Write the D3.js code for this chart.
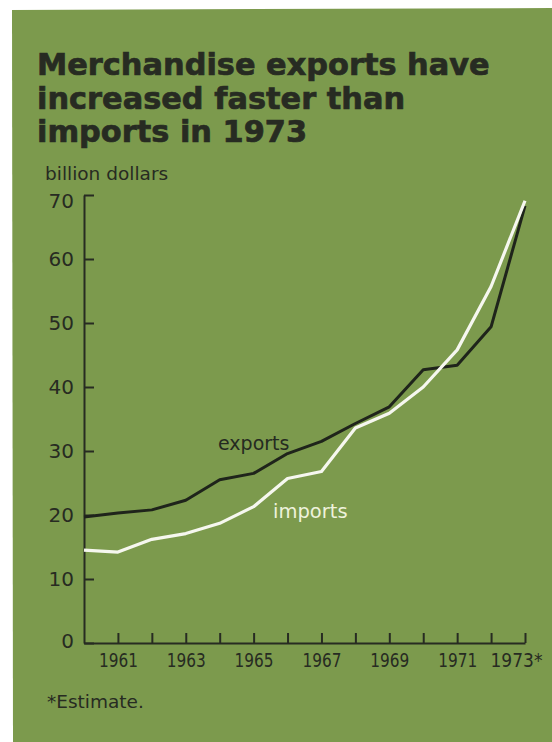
<!DOCTYPE html>
<html><head><meta charset="utf-8">
<script src="https://cdn.jsdelivr.net/npm/d3@7"></script>
<style>
html,body{margin:0;padding:0;background:#fff;}
svg{display:block;}
</style></head>
<body>
<svg id="c" width="552" height="742"></svg>
<script>
// ---- data ----
const years = [1960,1961,1962,1963,1964,1965,1966,1967,1968,1969,1970,1971,1972,1973];
const exportsVals = [19.7,20.3,20.8,22.3,25.5,26.5,29.6,31.5,34.3,36.9,42.7,43.4,49.4,68.3];
const importsVals = [14.5,14.2,16.2,17.1,18.7,21.3,25.7,26.8,33.6,35.9,40.0,45.8,55.7,69.1];
const yTicks = [0,10,20,30,40,50,60,70];
const xTicks = [1961,1962,1963,1964,1965,1966,1967,1968,1969,1970,1971,1972,1973];
const xLabels = {1961:"1961",1963:"1963",1965:"1965",1967:"1967",1969:"1969",1971:"1971",1973:"1973*"};
const titleLines = ["Merchandise exports have","increased faster than","imports in 1973"];

const svg = d3.select("#c");
const green = "#7c9a4d", dark = "#272b22";

// background panel
svg.append("polygon").attr("points","12,10 552,8 552,742 13,742").attr("fill",green);

// title
svg.append("g").selectAll("text").data(titleLines).join("text")
  .attr("x",37).attr("y",(d,i)=>75+i*33.5)
  .attr("font-family","DejaVu Sans").attr("font-weight","bold").attr("font-size",30.4)
  .attr("fill",dark).attr("stroke",dark).attr("stroke-width",0.7).text(d=>d);

svg.append("text").attr("x",45).attr("y",180).attr("font-family","DejaVu Sans")
  .attr("font-size",18.5).attr("fill",dark).text("billion dollars");

const x = d3.scaleLinear().domain([1960,1973]).range([84,525]);
const y = d3.scaleLinear().domain([0,70]).range([643,195]);

// y axis
const ya = svg.append("g").attr("transform",`translate(${x(1960)},0)`)
  .call(d3.axisLeft(y).tickValues(yTicks).tickSizeInner(-10).tickSizeOuter(0).tickPadding(10).tickFormat(d3.format("d")));
ya.selectAll("text").attr("font-family","DejaVu Sans").attr("font-size",20).attr("fill",dark);
ya.selectAll(".tick").filter(d=>d===70).select("text").attr("dy","0.62em");
ya.selectAll(".tick").filter(d=>d===0).select("text").attr("dy","0.2em");

// x axis
const xa = svg.append("g").attr("transform",`translate(0,${y(0)})`)
  .call(d3.axisBottom(x).tickValues(xTicks).tickSizeInner(-10).tickSizeOuter(0).tickPadding(10).tickFormat(d=>xLabels[d]||""));
xa.selectAll("text").attr("font-family","DejaVu Sans").attr("font-size",20).attr("fill",dark)
  .filter(d=>xLabels[d]).attr("textLength",39).attr("lengthAdjust","spacingAndGlyphs");
xa.selectAll(".tick").filter(d=>d===1973).select("text")
  .attr("dx",-9).attr("textLength",52);

svg.selectAll(".domain, .tick line").attr("stroke",dark).attr("stroke-width",2);

// lines
const line = d3.line().x((d,i)=>x(years[i])).y(d=>y(d));
svg.append("path").datum(exportsVals).attr("d",line).attr("fill","none")
  .attr("stroke","#1f241b").attr("stroke-width",3).attr("stroke-linejoin","round");
svg.append("path").datum(importsVals).attr("d",line).attr("fill","none")
  .attr("stroke","#f6f7ef").attr("stroke-width",3.2).attr("stroke-linejoin","round");

// series labels
svg.append("text").attr("x",218).attr("y",450).attr("font-family","DejaVu Sans")
  .attr("font-size",19).attr("fill","#252a21").text("exports");
svg.append("text").attr("x",273).attr("y",518).attr("font-family","DejaVu Sans")
  .attr("font-size",19.5).attr("fill","#eef2dc").text("imports");

// footnote
svg.append("text").attr("x",47).attr("y",708).attr("font-family","DejaVu Sans")
  .attr("font-size",18.5).attr("fill",dark).text("*Estimate.");
</script>
</body></html>
